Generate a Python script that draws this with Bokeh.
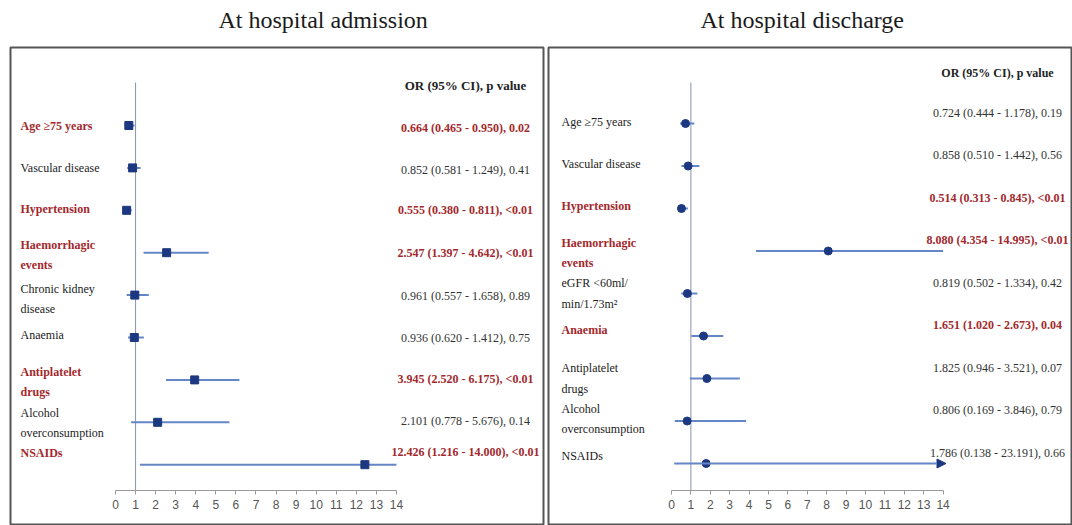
from bokeh.plotting import figure
from bokeh.layouts import row, column
from bokeh.models import Range1d, FixedTicker, Arrow, NormalHead, ColumnDataSource
from bokeh.embed import file_html
from bokeh.resources import INLINE
from bokeh.core.properties import value

# ---------------- data ----------------
panel_titles = ["At hospital admission", "At hospital discharge"]

adm_labels = ["Age \u226575 years", "Vascular disease", "Hypertension", "Haemorrhagic\nevents",
              "Chronic kidney\ndisease", "Anaemia", "Antiplatelet\ndrugs",
              "Alcohol\noverconsumption", "NSAIDs"]
adm_or = [0.664, 0.852, 0.555, 2.547, 0.961, 0.936, 3.945, 2.101, 12.426]
adm_lo = [0.465, 0.581, 0.380, 1.397, 0.557, 0.620, 2.520, 0.778, 1.216]
adm_hi = [0.950, 1.249, 0.811, 4.642, 1.658, 1.412, 6.175, 5.676, 14.000]
adm_p = ["0.02", "0.41", "<0.01", "<0.01", "0.89", "0.75", "<0.01", "0.14", "<0.01"]
adm_sig = [True, False, True, True, False, False, True, False, True]
adm_arrow = [False, False, False, False, False, False, False, False, False]

dis_labels = ["Age \u226575 years", "Vascular disease", "Hypertension", "Haemorrhagic\nevents",
              "eGFR <60ml/\nmin/1.73m\u00b2", "Anaemia", "Antiplatelet\ndrugs",
              "Alcohol\noverconsumption", "NSAIDs"]
dis_or = [0.724, 0.858, 0.514, 8.080, 0.819, 1.651, 1.825, 0.806, 1.786]
dis_lo = [0.444, 0.510, 0.313, 4.354, 0.502, 1.020, 0.946, 0.169, 0.138]
dis_hi = [1.178, 1.442, 0.845, 14.995, 1.334, 2.673, 3.521, 3.846, 23.191]
dis_p = ["0.19", "0.56", "<0.01", "<0.01", "0.42", "0.04", "0.07", "0.79", "0.66"]
dis_sig = [False, False, True, True, False, True, False, False, False]
dis_arrow = [False, False, False, False, False, False, False, False, True]

axis_ticks = list(range(0, 15))
header = "OR (95% CI), p value"

# ---------------- style / layout ----------------
RED = "#a3282c"
BLACK = "#222222"
GREY_TXT = "#333333"
NAVY = "#1c3880"
CI = "#6486c6"
REFL = "#8594ad"
SERIF = "Liberation Serif"
PAGE_W = 1072
TITLE_H = 46
FIG_H = 525 - TITLE_H
TOP_PAD = 1          # frame top = screen y 47

title_fig = figure(width=PAGE_W, height=TITLE_H, output_backend="svg", toolbar_location=None,
                   x_range=Range1d(0, PAGE_W), y_range=Range1d(TITLE_H, 0),
                   x_axis_location=None, y_axis_location=None,
                   min_border_left=0, min_border_right=0, min_border_top=0, min_border_bottom=0)
title_fig.outline_line_color = None
title_fig.xgrid.visible = False
title_fig.ygrid.visible = False
title_fig.text(x=[218, 700], y=[19, 19], text=panel_titles, text_font=value(SERIF),
               text_font_size="24px", text_color="#1a1a1a", text_align="left",
               text_baseline="middle")


def panel(labels, ors, los, his, ps, sig, arrows, *, fig_w, bl, frame_w,
          zero_px, px_per_unit, row0_px, row_step, axis_px, ref_top_px, header_px,
          label_px, value_px, marker, msize, lab_dy, val_dy, header_size):
    frame_top = TITLE_H + TOP_PAD          # screen y of frame top
    frame_h = FIG_H - TOP_PAD
    x_start = (bl - zero_px) / px_per_unit
    x_end = x_start + frame_w / px_per_unit
    y_top = -(row0_px - frame_top) / row_step
    y_bot = y_top + frame_h / row_step

    def yv(px):
        return (px - row0_px) / row_step

    def xv(px):
        return (px - zero_px) / px_per_unit

    p = figure(width=fig_w, height=FIG_H, output_backend="svg", toolbar_location=None,
               x_range=Range1d(x_start, x_end), y_range=Range1d(y_bot, y_top),
               y_axis_location=None, x_axis_location="below")
    p.min_border_left = bl
    p.min_border_right = fig_w - bl - frame_w
    p.min_border_top = TOP_PAD
    p.min_border_bottom = 0
    p.outline_line_color = "#555555"
    p.outline_line_width = 2
    p.xgrid.visible = False
    p.ygrid.visible = False
    p.background_fill_color = "white"
    p.border_fill_color = "white"

    n = len(labels)
    ys = list(range(n))
    xhi_draw = [min(h, axis_ticks[-1]) for h in his]
    vals = [f"{o:.3f} ({l:.3f} - {h:.3f}), {pp}" for o, l, h, pp in zip(ors, los, his, ps)]
    src = ColumnDataSource(dict(
        y=ys, orv=ors, lo=los, hi=xhi_draw, label=labels, val=vals,
        lab_color=[RED if s else BLACK for s in sig],
        val_color=[RED if s else GREY_TXT for s in sig],
        style=["bold" if s else "normal" for s in sig],
        lab_dy=lab_dy, val_dy=val_dy,
        lx=[xv(label_px)] * n, vx=[xv(value_px)] * n,
    ))

    axis_y = yv(axis_px)
    # reference line at OR = 1
    p.segment(x0=[1], y0=[yv(ref_top_px)], x1=[1], y1=[axis_y], line_color=REFL, line_width=1)

    # CI lines
    seg_idx = [i for i in range(n) if not arrows[i]]
    p.segment(x0=[los[i] for i in seg_idx], y0=[ys[i] for i in seg_idx],
              x1=[xhi_draw[i] for i in seg_idx], y1=[ys[i] for i in seg_idx],
              line_color=CI, line_width=2)
    arr_idx = [i for i in range(n) if arrows[i]]
    if arr_idx:
        asrc = ColumnDataSource(dict(x0=[los[i] for i in arr_idx], y0=[ys[i] for i in arr_idx],
                                     x1=[axis_ticks[-1] + 0.15 for i in arr_idx],
                                     y1=[ys[i] for i in arr_idx]))
        p.add_layout(Arrow(end=NormalHead(size=9, fill_color=NAVY, line_color=NAVY),
                           x_start="x0", y_start="y0", x_end="x1", y_end="y1",
                           line_color=CI, line_width=2, source=asrc))

    p.scatter(x="orv", y="y", source=src, marker=marker, size=msize,
              fill_color=NAVY, line_color=NAVY)

    # row labels
    p.text(x="lx", y="y", text="label", source=src, text_font=value(SERIF),
           text_font_size="12px", text_color="lab_color", text_font_style="style",
           text_align="left", text_baseline="middle", y_offset="lab_dy", text_line_height=1.45)
    # value column
    p.text(x="vx", y="y", text="val", source=src, text_font=value(SERIF),
           text_font_size="12px", text_color="val_color", text_font_style="style",
           text_align="center", text_baseline="middle", y_offset="val_dy")
    p.text(x=[xv(value_px)], y=[yv(header_px)], text=[header], text_font=value(SERIF),
           text_font_size=header_size, text_color=BLACK, text_font_style="bold",
           text_align="center", text_baseline="middle")

    ax = p.xaxis[0]
    ax.fixed_location = axis_y
    ax.bounds = (axis_ticks[0], axis_ticks[-1])
    ax.ticker = FixedTicker(ticks=axis_ticks)
    ax.axis_line_color = "#9a9a9a"
    ax.major_tick_line_color = "#9a9a9a"
    ax.major_tick_out = 4
    ax.major_tick_in = 0
    ax.minor_tick_line_color = None
    ax.major_label_text_font = "Liberation Sans"
    ax.major_label_text_font_size = "12px"
    ax.major_label_text_color = "#555555"
    ax.major_label_standoff = 5
    return p


p1 = panel(adm_labels, adm_or, adm_lo, adm_hi, adm_p, adm_sig, adm_arrow,
           fig_w=545, bl=10, frame_w=533, zero_px=115, px_per_unit=20.07,
           row0_px=125, row_step=42.4, axis_px=490, ref_top_px=82, header_px=85,
           label_px=20, value_px=465, marker="square", msize=8,
           lab_dy=[0, 0, -1, 2, 4, -3, 2, 1, -12], val_dy=[2, 2, 0, 0, 1, 0, -1, -1, -13],
           header_size="13px")

p2 = panel(dis_labels, dis_or, dis_lo, dis_hi, dis_p, dis_sig, dis_arrow,
           fig_w=527, bl=3, frame_w=524, zero_px=671 - 545, px_per_unit=19.4,
           row0_px=123, row_step=42.5, axis_px=490, ref_top_px=82, header_px=72,
           label_px=561 - 545, value_px=997 - 545, marker="circle", msize=8,
           lab_dy=[-2, -2, -3, 2, 0, -6, 0, -2, -8], val_dy=[-11] * 9,
           header_size="12px")

layout = column(title_fig, row(p1, p2, spacing=0), spacing=0)
open("out.html", "w").write(file_html(layout, INLINE))
